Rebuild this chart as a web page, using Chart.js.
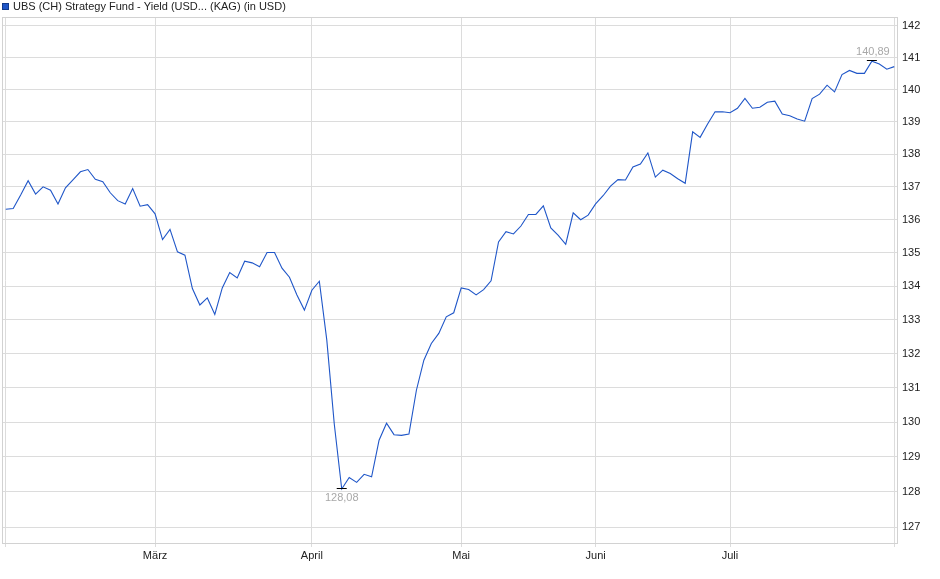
<!DOCTYPE html>
<html>
<head>
<meta charset="utf-8">
<script src="https://cdn.jsdelivr.net/npm/chart.js@4.4.1/dist/chart.umd.min.js"></script>
<style>
html,body{margin:0;padding:0;background:#fff;}
#wrap{position:relative;width:940px;height:579px;}
</style>
</head>
<body>
<div id="wrap"><canvas id="c" width="940" height="579"></canvas></div>
<script>
// ---- data ----
const seriesName = 'UBS (CH) Strategy Fund - Yield (USD... (KAG) (in USD)';
const prices = [
136.32,136.34,136.75,137.19,136.78,137.00,136.90,136.48,136.97,137.21,
137.46,137.53,137.23,137.16,136.82,136.58,136.48,136.95,136.41,136.46,
136.18,135.40,135.71,135.03,134.93,133.93,133.44,133.65,133.16,133.95,
134.41,134.25,134.75,134.70,134.58,135.01,135.01,134.54,134.27,133.74,
133.29,133.88,134.15,132.40,129.95,128.08,128.41,128.27,128.50,128.43,
129.48,129.97,129.64,129.62,129.66,130.93,131.81,132.30,132.60,133.09,
133.21,133.95,133.90,133.74,133.90,134.16,135.33,135.64,135.57,135.81,
136.16,136.16,136.42,135.75,135.53,135.26,136.21,136.00,136.14,136.48,
136.73,137.02,137.22,137.21,137.61,137.70,138.04,137.30,137.51,137.41,
137.25,137.11,138.69,138.52,138.93,139.31,139.31,139.28,139.42,139.73,
139.42,139.45,139.61,139.64,139.24,139.19,139.09,139.02,139.72,139.86,
140.14,139.93,140.47,140.60,140.51,140.51,140.89,140.80,140.64,140.72
];
const monthNames = ['März','April','Mai','Juni','Juli'];
const monthStartIndex = [20,41,61,79,97];
const yTickValues = [127,128,129,130,131,132,133,134,135,136,137,138,139,140,141,142];

// ---- chart ----
const FONT = '"Liberation Sans", Arial, sans-serif';
const lineColor = '#1f56c8';
const gridColor = '#dcdcdc';
const points = prices.map((v,i)=>({x:i,y:v}));
const lastIndex = prices.length - 1;
const xTickValues = [0].concat(monthStartIndex, [lastIndex]);

const fmt = v => v.toFixed(2).replace('.', ',');

const decorPlugin = {
  id: 'decor',
  beforeDatasetsDraw(chart) {
    const {ctx, chartArea:a} = chart;
    ctx.save();
    ctx.strokeStyle = '#d2d2d2';
    ctx.lineWidth = 1;
    ctx.strokeRect(Math.round(a.left)+0.5, Math.round(a.top)+0.5,
                   Math.round(a.right-a.left)-1, Math.round(a.bottom-a.top)-1);
    ctx.restore();
  },
  afterDatasetsDraw(chart) {
    const {ctx} = chart;
    const xs = chart.scales.x, ys = chart.scales.y;
    let mi = 0, ma = 0;
    prices.forEach((v,i)=>{ if (v < prices[mi]) mi = i; if (v > prices[ma]) ma = i; });
    ctx.save();
    ctx.font = '11px ' + FONT;
    ctx.textAlign = 'center';
    ctx.textBaseline = 'middle';
    // min
    let px = xs.getPixelForValue(mi), py = ys.getPixelForValue(prices[mi]);
    ctx.strokeStyle = '#000'; ctx.lineWidth = 1;
    ctx.beginPath(); ctx.moveTo(px-5, Math.round(py)-0.5); ctx.lineTo(px+5, Math.round(py)-0.5); ctx.stroke();
    ctx.fillStyle = '#a8a8a8';
    ctx.fillText(fmt(prices[mi]), px, py + 9);
    // max
    px = xs.getPixelForValue(ma); py = ys.getPixelForValue(prices[ma]);
    ctx.beginPath(); ctx.moveTo(px-5, Math.round(py)-0.5); ctx.lineTo(px+5, Math.round(py)-0.5); ctx.stroke();
    ctx.fillStyle = '#a8a8a8';
    ctx.fillText(fmt(prices[ma]), px + 1, py - 9);
    // legend / title
    ctx.fillStyle = lineColor;
    ctx.fillRect(2, 3, 7, 7);
    ctx.strokeStyle = '#123b8c';
    ctx.strokeRect(2.5, 3.5, 6, 6);
    ctx.fillStyle = '#222';
    ctx.textAlign = 'left';
    ctx.fillText(seriesName, 13, 7);
    ctx.restore();
  }
};

new Chart(document.getElementById('c'), {
  type: 'line',
  data: {
    datasets: [{
      label: seriesName,
      data: points,
      borderColor: lineColor,
      borderWidth: 1.1,
      pointRadius: 0,
      pointHoverRadius: 0,
      tension: 0,
      fill: false
    }]
  },
  options: {
    responsive: false,
    animation: false,
    devicePixelRatio: 1,
    layout: { padding: { top: 17, left: 2, right: 0, bottom: 0 } },
    plugins: { legend: { display: false }, tooltip: { enabled: false } },
    scales: {
      x: {
        type: 'linear',
        min: -0.5,
        max: lastIndex + 0.5,
        afterBuildTicks: s => { s.ticks = xTickValues.map(v=>({value:v})); },
        afterFit: s => { s.height = 35; },
        ticks: {
          autoSkip: false,
          maxRotation: 0,
          padding: 2,
          color: '#222',
          font: { family: FONT, size: 11 },
          callback: v => { const k = monthStartIndex.indexOf(v); return k >= 0 ? monthNames[k] : ''; }
        },
        grid: { color: gridColor, tickLength: 3, tickColor: gridColor },
        border: { display: false }
      },
      y: {
        type: 'logarithmic',
        position: 'right',
        min: 126.52,
        max: 142.285,
        afterBuildTicks: s => { s.ticks = yTickValues.map(v=>({value:v})); },
        afterFit: s => { s.width = 42; },
        ticks: {
          padding: 4,
          color: '#222',
          font: { family: FONT, size: 11 },
          callback: v => String(v)
        },
        grid: { color: gridColor, drawTicks: false },
        border: { display: false }
      }
    }
  },
  plugins: [decorPlugin]
});
</script>
</body>
</html>
